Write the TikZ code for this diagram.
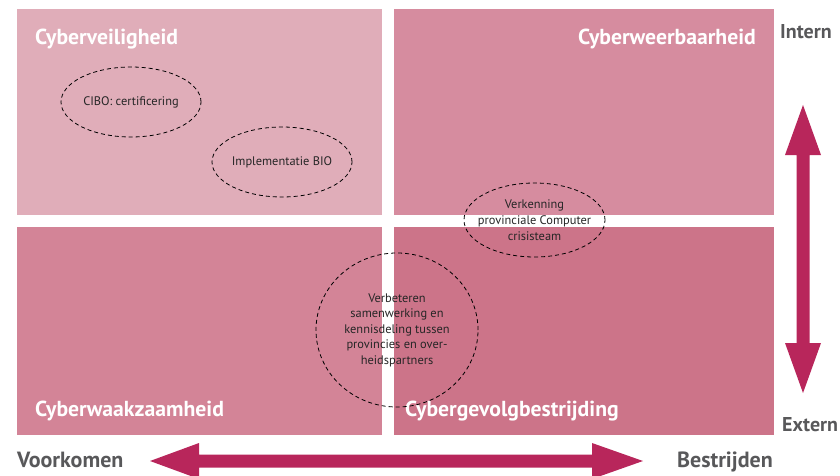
\documentclass[tikz,border=0pt]{standalone}
\usepackage{fontspec}
\setmainfont{PT Sans}
\usetikzlibrary{shapes.geometric}
\definecolor{qTL}{HTML}{E0ADB9}
\definecolor{qTR}{HTML}{D68C9F}
\definecolor{qBL}{HTML}{D38497}
\definecolor{qBR}{HTML}{CC7489}
\definecolor{arrowmag}{HTML}{B8265B}
\definecolor{axisgray}{HTML}{58585A}
\tikzset{
  quadlabel/.style={text=white, font=\bfseries\fontsize{21.7}{24}\selectfont, inner sep=0pt},
  axislabel/.style={text=axisgray, font=\bfseries\fontsize{22}{24}\selectfont, inner sep=0pt},
  axislabelsmall/.style={text=axisgray, font=\bfseries\fontsize{20}{22}\selectfont, inner sep=0pt},
  topic/.style={ellipse, draw=black, line width=0.8pt, dash pattern=on 4pt off 3pt, inner sep=0pt},
  topictext/.style={inner sep=0pt, align=center, text=black!85, font=\fontsize{12.4}{15.5}\selectfont},
  bigarrow/.style={fill=arrowmag, draw=none}
}
\begin{document}
\begin{tikzpicture}[x=1pt,y=-1pt]
\useasboundingbox (0,0) rectangle (840,476);
\clip (0,0) rectangle (840,476);
% quadrants
\fill[qTL] (17,9) rectangle (382,215);
\fill[qTR] (394,9) rectangle (774,215);
\fill[qBL] (17,227) rectangle (382,435);
\fill[qBR] (394,227) rectangle (774,435);
% quadrant labels
\node[quadlabel, anchor=base west] (cv) at (35,45) {Cyberveiligheid};
\node[quadlabel, anchor=base east] (cw) at (756,45) {Cyberweerbaarheid};
\node[quadlabel, anchor=base west] (cz) at (35,416) {Cyberwaakzaamheid};
\node[quadlabel, anchor=base west] (cg) at (405,416) {Cybergevolgbestrijding};
% axis labels
\node[axislabelsmall, anchor=base west] (intern) at (780,39) {Intern};
\node[axislabelsmall, anchor=base west] (extern) at (782,431) {Extern};
\node[axislabel, anchor=base west] (voor) at (17,467) {Voorkomen};
\node[axislabel, anchor=base east] (bestr) at (773,467) {Bestrijden};
% arrows
\fill[bigarrow] (803,105) -- (821,155) -- (809.5,155) -- (809.5,343) -- (821,343) -- (803,393)
  -- (785,343) -- (796.5,343) -- (796.5,155) -- (785,155) -- cycle;
\fill[bigarrow] (150,461) -- (199,443) -- (199,454.5) -- (592,454.5) -- (592,443) -- (643,461)
  -- (592,479) -- (592,467.5) -- (199,467.5) -- (199,479) -- cycle;
% topics
\node[topic, minimum width=140pt, minimum height=70pt] (cibo) at (131,102) {};
\node[topictext] (cibot) at (cibo.center) {CIBO: certificering};
\node[topic, minimum width=140pt, minimum height=70pt] (bio) at (282,162) {};
\node[topictext] (biot) at (bio.center) {Implementatie BIO};
\node[topic, minimum width=141pt, minimum height=74pt] (pct) at (534.5,220) {};
\node[topictext, font=\fontsize{12.4}{16}\selectfont] (pctt) at (pct.center) {Verkenning\\provinciale Computer\\crisisteam};
\node[topic, minimum width=162pt, minimum height=154pt] (samen) at (397,330) {};
\node[topictext] (sament) at (samen.center) {Verbeteren\\samenwerking en\\kennisdeling tussen\\provincies en over-\\heidspartners};
\end{tikzpicture}
\end{document}
